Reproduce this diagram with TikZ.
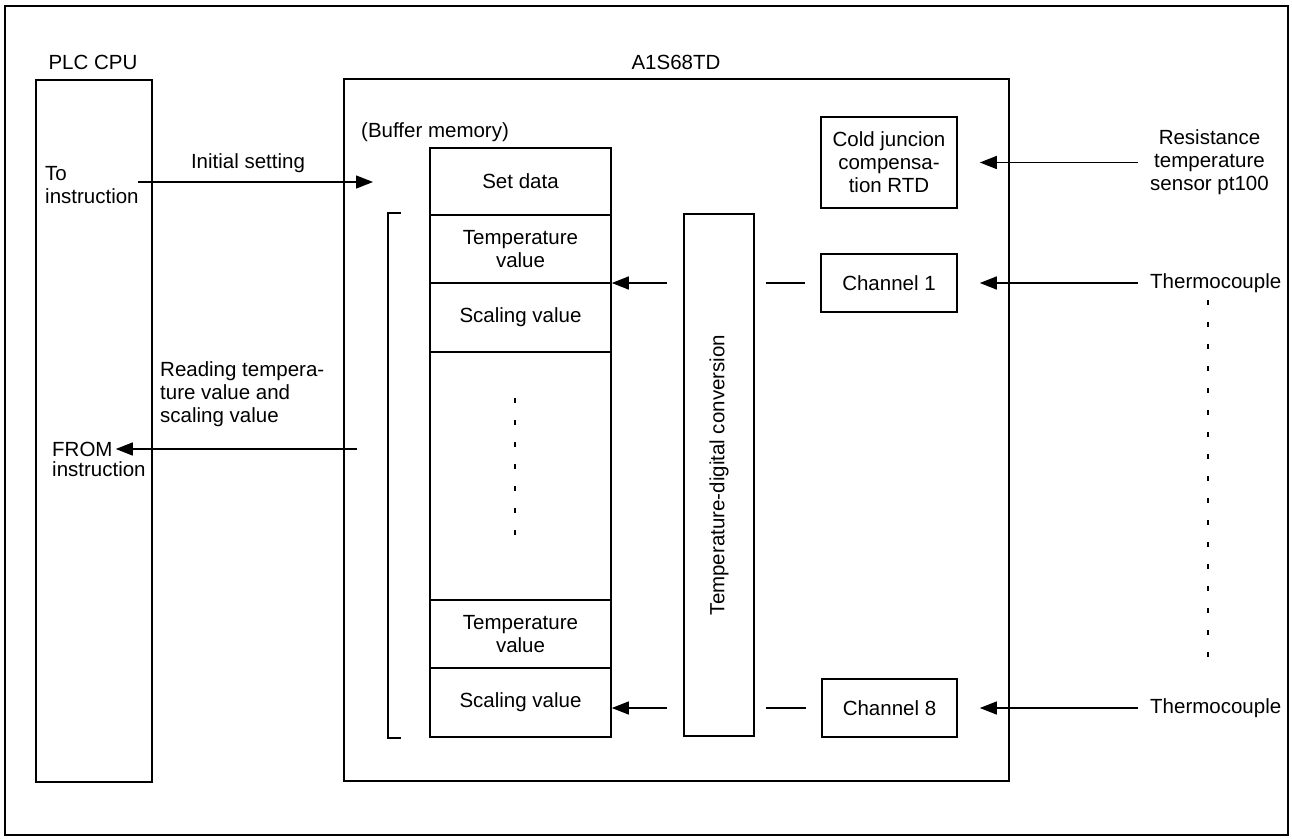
\documentclass[tikz,border=0pt]{standalone}
\usepackage{fontspec}
\setmainfont{Liberation Sans}
\usetikzlibrary{arrows.meta,calc}
\newcommand{\fs}{\fontsize{20.5}{23}\selectfont}
\tikzset{
  box/.style={draw, line width=1.6pt, inner sep=0pt},
  cell/.style={draw, line width=1.6pt, inner sep=0pt, minimum width=181pt, align=center, font=\fs},
  lbl/.style={inner sep=0pt, font=\fs, align=center},
  lbll/.style={inner sep=0pt, font=\fs, align=left},
  conn/.style={line width=1.3pt},
  arr/.style={line width=1.3pt, -{Triangle[length=17pt,width=13pt]}},
  dots/.style={line width=1.8pt, dash pattern=on 5pt off 17pt}
}
\begin{document}
\begin{tikzpicture}[x=1pt,y=-1pt]
\useasboundingbox (0,0) rectangle (1292,838);
% outer frame
\draw[line width=2pt] (5,6) rectangle (1288,835);
% PLC CPU
\node[lbl] (plct) at (93,62) {PLC CPU};
\node[box, minimum width=116pt, minimum height=702pt] (plc) at (94,431) {};
\node[lbll, anchor=north west] (toins) at (45,166) {To\\instruction};
\node[lbll, anchor=west] (from) at (52,449) {FROM};
\node[lbll, anchor=north west] (fromins) at (52,461) {instruction};
% A1S68TD
\node[lbl] (at) at (676,62) {A1S68TD};
\node[box, minimum width=665pt, minimum height=702pt] (mod) at (676.5,430) {};
\node[lbll, anchor=west] (buf) at (361,132) {(Buffer memory)};
% buffer column
\node[cell, minimum height=67pt] (setdata) at (520.5,181.5) {Set data};
\node[cell, minimum height=68pt] (temp1) at (520.5,249) {Temperature\\value};
\node[cell, minimum height=69pt] (scal1) at (520.5,317.5) {Scaling value};
\node[cell, minimum height=248pt] (gap) at (520.5,476) {};
\node[cell, minimum height=68pt] (temp8) at (520.5,634) {Temperature\\value};
\node[cell, minimum height=69pt] (scal8) at (520.5,702.5) {Scaling value};
\draw[dots] (515,398) -- (515,535);
% bracket
\coordinate (bt) at (401,213);
\coordinate (bb) at (401,738);
\draw[line width=1.2pt] (bt) -- ++(-13,0) |- (bb);
% temperature-digital conversion
\node[box, minimum width=70pt, minimum height=522pt] (tdc) at (719,475) {};
\node[lbl, rotate=90] (tdct) at (tdc.center) {Temperature-digital conversion};
% cold junction and channels
\node[box, minimum width=136pt, minimum height=91pt, font=\fs, align=center] (cj) at (889,162.5) {Cold juncion\\compensa-\\tion RTD};
\node[box, minimum width=136pt, minimum height=58pt, font=\fs] (ch1) at (889,283) {Channel 1};
\node[box, minimum width=135pt, minimum height=58pt, font=\fs] (ch8) at (889.5,708) {Channel 8};
% external labels
\node[lbl, anchor=west] (rts) at (1150,162.5) {Resistance\\temperature\\sensor pt100};
\node[lbl, anchor=west] (tc1) at (1150,283) {Thermocouple};
\node[lbl, anchor=west] (tc8) at (1150,708) {Thermocouple};
\draw[dots] (1208,300) -- (1208,665);
% initial setting
\node[lbl] (init) at (248,163) {Initial setting};
\coordinate (initS) at (138,182);
\coordinate (initE) at (373,182);
\draw[arr] (initS) -- (initE);
% reading
\node[lbll, anchor=north west] (read) at (160,361) {Reading tempera-\\ture value and\\scaling value};
\coordinate (readS) at (357,449);
\draw[arr] (readS) -- ([xshift=3pt]from.east);
% channel 1 row
\draw[arr] ([xshift=-16pt]tdc.west |- ch1.west) -- (temp1.south east |- ch1.west);
\draw[conn] ([xshift=11pt]tdc.east |- ch1.west) -- ([xshift=-15pt]ch1.west);
\draw[arr] ([xshift=-12pt]tc1.west) -- ([xshift=22pt]ch1.east);
% channel 8 row
\draw[arr] ([xshift=-16pt]tdc.west |- ch8.west) -- (scal8.east |- ch8.west);
\draw[conn] ([xshift=11pt]tdc.east |- ch8.west) -- ([xshift=-15pt]ch8.west);
\draw[arr] ([xshift=-12pt]tc8.west) -- ([xshift=22pt]ch8.east);
% cold junction row
\draw[arr] ([xshift=-12pt]rts.west) -- ([xshift=22pt]cj.east |- rts.west);
\end{tikzpicture}
\end{document}
